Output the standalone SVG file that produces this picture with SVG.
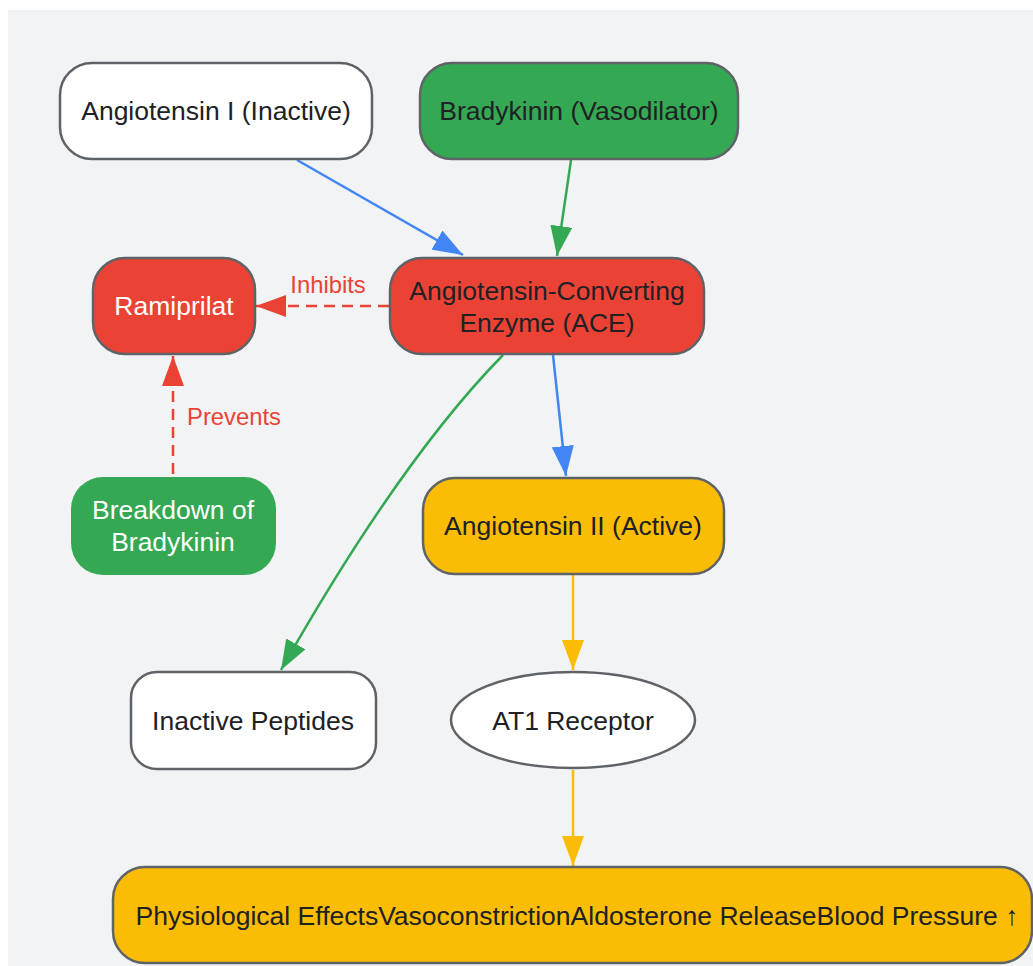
<svg xmlns="http://www.w3.org/2000/svg" width="1033" height="966" viewBox="0 0 1033 966">
<style>
.node{stroke:#5f6368;stroke-width:2.5}
.t{font-family:"Liberation Sans",Arial,sans-serif;font-size:26.5px;text-anchor:middle;fill:#202124}
.w{fill:#ffffff}
.lbl{font-family:"Liberation Sans",Arial,sans-serif;font-size:23.8px;text-anchor:middle;fill:#ea4335}
.e{fill:none;stroke-width:2.5}
</style>
<defs>
<marker id="aB" viewBox="0 0 30 22" refX="30" refY="11" markerWidth="30" markerHeight="22" markerUnits="userSpaceOnUse" orient="auto"><path d="M0,0 L30,11 L0,22 z" fill="#4285f4"/></marker>
<marker id="aG" viewBox="0 0 30 22" refX="30" refY="11" markerWidth="30" markerHeight="22" markerUnits="userSpaceOnUse" orient="auto"><path d="M0,0 L30,11 L0,22 z" fill="#34a853"/></marker>
<marker id="aR" viewBox="0 0 30 22" refX="30" refY="11" markerWidth="30" markerHeight="22" markerUnits="userSpaceOnUse" orient="auto"><path d="M0,0 L30,11 L0,22 z" fill="#ea4335"/></marker>
<marker id="aY" viewBox="0 0 30 22" refX="30" refY="11" markerWidth="30" markerHeight="22" markerUnits="userSpaceOnUse" orient="auto"><path d="M0,0 L30,11 L0,22 z" fill="#fbbc04"/></marker>
</defs>
<rect x="8" y="10" width="1030" height="960" fill="#f1f3f5"/>
<g id="connectors">
<path class="e" d="M297,160 L463,255" stroke="#4285f4" marker-end="url(#aB)"/>
<path class="e" d="M571,160 L557,256" stroke="#34a853" marker-end="url(#aG)"/>
<path class="e" d="M389,306 L256,306" stroke="#ea4335" stroke-dasharray="11,7" marker-end="url(#aR)"/>
<text class="lbl" x="328" y="293">Inhibits</text>
<path class="e" d="M173,474 L173,356" stroke="#ea4335" stroke-dasharray="11,7" marker-end="url(#aR)"/>
<text class="lbl" x="234" y="425">Prevents</text>
<path class="e" d="M553,355 L566,476" stroke="#4285f4" marker-end="url(#aB)"/>
<path class="e" d="M503,355 Q400,460 281,670" stroke="#34a853" marker-end="url(#aG)"/>
<path class="e" d="M573,575 L573,670" stroke="#fbbc04" marker-end="url(#aY)"/>
<path class="e" d="M573,770 L573,866" stroke="#fbbc04" marker-end="url(#aY)"/>
</g>
<g id="angiotensin1"><rect class="node" x="60" y="63" width="312" height="96" rx="32" fill="#ffffff"/><text class="t" x="216" y="120">Angiotensin I (Inactive)</text></g>
<g id="bradykinin"><rect class="node" x="420" y="63" width="318" height="96" rx="32" fill="#34a853"/><text class="t" x="579" y="120">Bradykinin (Vasodilator)</text></g>
<g id="ace"><rect class="node" x="390" y="258" width="314" height="96" rx="32" fill="#ea4335"/><text class="t" x="547" y="300">Angiotensin-Converting</text><text class="t" x="547" y="332">Enzyme (ACE)</text></g>
<g id="ramiprilat"><rect class="node" x="93" y="258" width="162" height="96" rx="32" fill="#ea4335"/><text class="t w" x="174" y="315">Ramiprilat</text></g>
<g id="breakdown"><rect x="71" y="477" width="205" height="98" rx="32" fill="#34a853"/><text class="t w" x="173" y="519">Breakdown of</text><text class="t w" x="173" y="551">Bradykinin</text></g>
<g id="angiotensin2"><rect class="node" x="423" y="478" width="301" height="96" rx="32" fill="#fbbc04"/><text class="t" x="573" y="535">Angiotensin II (Active)</text></g>
<g id="inactive"><rect class="node" x="131" y="672" width="245" height="97" rx="26" fill="#ffffff"/><text class="t" x="253" y="730">Inactive Peptides</text></g>
<g id="at1"><ellipse class="node" cx="573" cy="720" rx="122" ry="48" fill="#ffffff"/><text class="t" x="573" y="730">AT1 Receptor</text></g>
<g id="effects"><rect class="node" x="113" y="867" width="919" height="96" rx="32" fill="#fbbc04"/><text class="t" x="577" y="925">Physiological EffectsVasoconstrictionAldosterone ReleaseBlood Pressure ↑</text></g>
</svg>
